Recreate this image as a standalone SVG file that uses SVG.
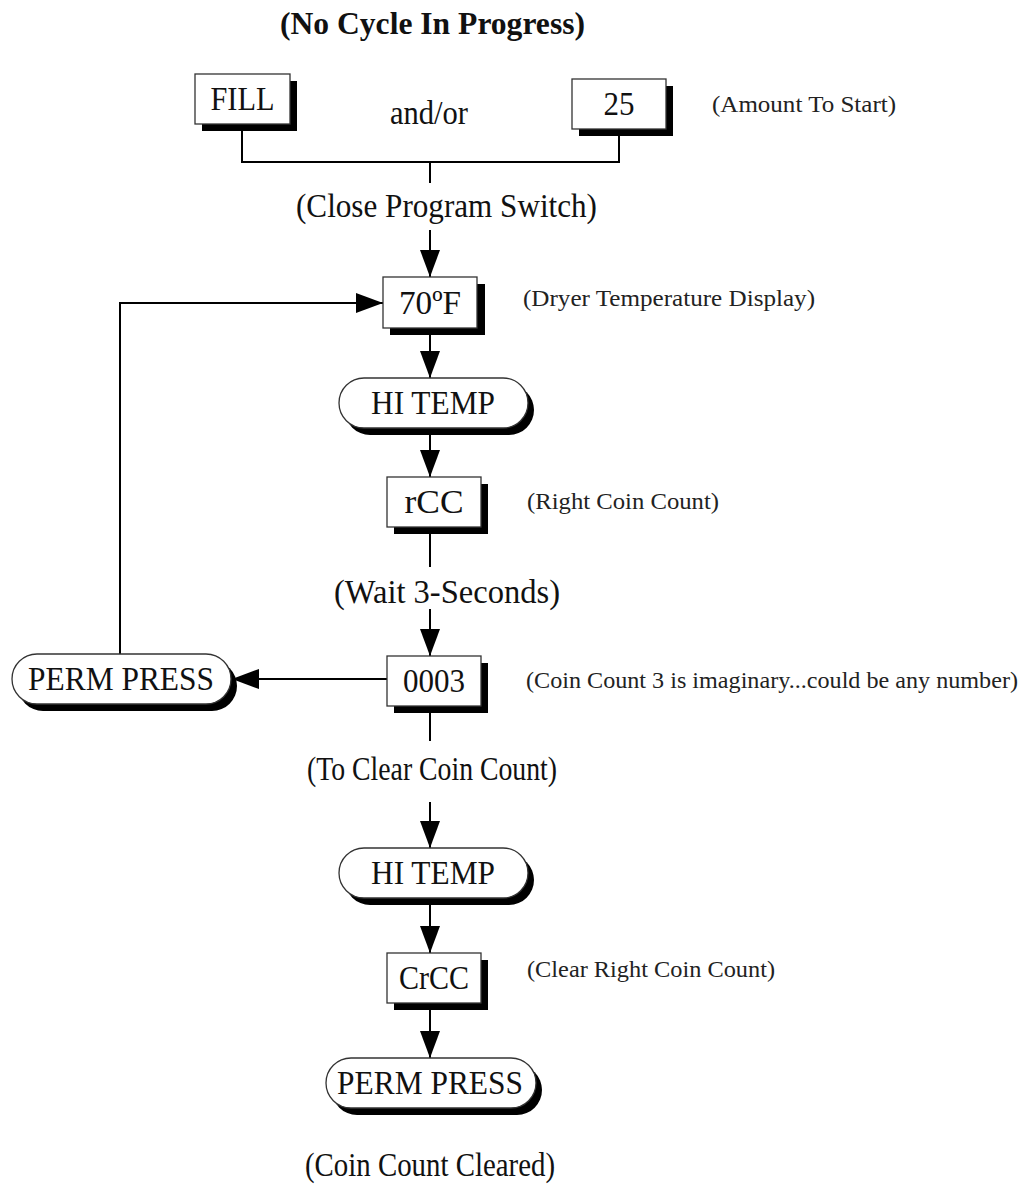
<svg xmlns="http://www.w3.org/2000/svg" width="1029" height="1199" viewBox="0 0 1029 1199">
<style>
text{font-family:"Liberation Serif","Times New Roman",serif;fill:#111}
.big{font-size:33px}
.small{font-size:24px;fill:#222}
.title{font-size:31px;font-weight:bold}
.box{fill:#fff;stroke:#333;stroke-width:1.3}
.sh{fill:#000}
.ln{fill:none;stroke:#000;stroke-width:2}
</style>
<defs>
<marker id="ah" markerUnits="userSpaceOnUse" markerWidth="30" markerHeight="22" refX="27" refY="10" orient="auto">
<path d="M0,0 L27,10 L0,20 Z" fill="#000"/>
</marker>
</defs>
<text class="title" x="280" y="34" textLength="305" lengthAdjust="spacingAndGlyphs">(No Cycle In Progress)</text>

<g id="connectors">
<polyline class="ln" points="242,131 242,162 619,162 619,136"/>
<line class="ln" x1="430" y1="162" x2="430" y2="183"/>
<line class="ln" x1="430" y1="230" x2="430" y2="277" marker-end="url(#ah)"/>
<polyline class="ln" points="120,654 120,303 383,303" marker-end="url(#ah)"/>
<line class="ln" x1="430" y1="334" x2="430" y2="378" marker-end="url(#ah)"/>
<line class="ln" x1="430" y1="435" x2="430" y2="477" marker-end="url(#ah)"/>
<line class="ln" x1="430" y1="533" x2="430" y2="567"/>
<line class="ln" x1="430" y1="609" x2="430" y2="656" marker-end="url(#ah)"/>
<line class="ln" x1="387" y1="679" x2="232" y2="679" marker-end="url(#ah)"/>
<line class="ln" x1="430" y1="712" x2="430" y2="741"/>
<line class="ln" x1="430" y1="802" x2="430" y2="848" marker-end="url(#ah)"/>
<line class="ln" x1="430" y1="905" x2="430" y2="953" marker-end="url(#ah)"/>
<line class="ln" x1="430" y1="1009" x2="430" y2="1058" marker-end="url(#ah)"/>
</g>

<g id="fill">
<rect class="sh" x="202" y="81" width="95" height="50"/>
<rect class="box" x="195" y="74" width="95" height="50"/>
<text class="big" x="242.5" y="110" text-anchor="middle" textLength="64" lengthAdjust="spacingAndGlyphs">FILL</text>
</g>
<text class="big" x="390" y="124" textLength="78" lengthAdjust="spacingAndGlyphs">and/or</text>
<g id="amount25">
<rect class="sh" x="579" y="86" width="94" height="50"/>
<rect class="box" x="572" y="79" width="94" height="50"/>
<text class="big" x="619" y="115" text-anchor="middle" textLength="31" lengthAdjust="spacingAndGlyphs">25</text>
</g>
<text class="small" x="712" y="112" textLength="184" lengthAdjust="spacingAndGlyphs">(Amount To Start)</text>
<text class="big" x="296" y="217" textLength="301" lengthAdjust="spacingAndGlyphs">(Close Program Switch)</text>

<g id="temp70">
<rect class="sh" x="390" y="284" width="95" height="51"/>
<rect class="box" x="383" y="277" width="94" height="51"/>
<text class="big" x="430" y="314" text-anchor="middle" textLength="62" lengthAdjust="spacingAndGlyphs">70ºF</text>
</g>
<text class="small" x="523" y="306" textLength="292" lengthAdjust="spacingAndGlyphs">(Dryer Temperature Display)</text>

<g id="hitemp1">
<rect class="sh" x="345" y="385" width="189" height="50" rx="25"/>
<rect class="box" x="339" y="378" width="189" height="50" rx="25"/>
<text class="big" x="433" y="414" text-anchor="middle" textLength="124" lengthAdjust="spacingAndGlyphs">HI TEMP</text>
</g>

<g id="rcc">
<rect class="sh" x="394" y="484" width="94" height="50"/>
<rect class="box" x="387" y="477" width="94" height="50"/>
<text class="big" x="434" y="513" text-anchor="middle" textLength="59" lengthAdjust="spacingAndGlyphs">rCC</text>
</g>
<text class="small" x="527" y="509" textLength="192" lengthAdjust="spacingAndGlyphs">(Right Coin Count)</text>
<text class="big" x="334" y="603" textLength="226" lengthAdjust="spacingAndGlyphs">(Wait 3-Seconds)</text>

<g id="permpress1">
<rect class="sh" x="18" y="661" width="219" height="50" rx="25"/>
<rect class="box" x="12" y="654" width="219" height="50" rx="25"/>
<text class="big" x="121" y="690" text-anchor="middle" textLength="186" lengthAdjust="spacingAndGlyphs">PERM PRESS</text>
</g>

<g id="c0003">
<rect class="sh" x="394" y="663" width="94" height="50"/>
<rect class="box" x="387" y="656" width="94" height="50"/>
<text class="big" x="434" y="692" text-anchor="middle" textLength="62" lengthAdjust="spacingAndGlyphs">0003</text>
</g>
<text class="small" x="526" y="688" textLength="492" lengthAdjust="spacingAndGlyphs">(Coin Count 3 is imaginary...could be any number)</text>
<text class="big" x="307" y="780" textLength="250" lengthAdjust="spacingAndGlyphs">(To Clear Coin Count)</text>

<g id="hitemp2">
<rect class="sh" x="345" y="855" width="189" height="50" rx="25"/>
<rect class="box" x="339" y="848" width="189" height="50" rx="25"/>
<text class="big" x="433" y="884" text-anchor="middle" textLength="124" lengthAdjust="spacingAndGlyphs">HI TEMP</text>
</g>

<g id="crcc">
<rect class="sh" x="394" y="960" width="94" height="50"/>
<rect class="box" x="387" y="953" width="94" height="50"/>
<text class="big" x="434" y="989" text-anchor="middle" textLength="70" lengthAdjust="spacingAndGlyphs">CrCC</text>
</g>
<text class="small" x="527" y="977" textLength="248" lengthAdjust="spacingAndGlyphs">(Clear Right Coin Count)</text>

<g id="permpress2">
<rect class="sh" x="332" y="1065" width="210" height="50" rx="25"/>
<rect class="box" x="326" y="1058" width="210" height="50" rx="25"/>
<text class="big" x="430" y="1094" text-anchor="middle" textLength="186" lengthAdjust="spacingAndGlyphs">PERM PRESS</text>
</g>
<text class="big" x="305" y="1176" textLength="250" lengthAdjust="spacingAndGlyphs">(Coin Count Cleared)</text>
</svg>
